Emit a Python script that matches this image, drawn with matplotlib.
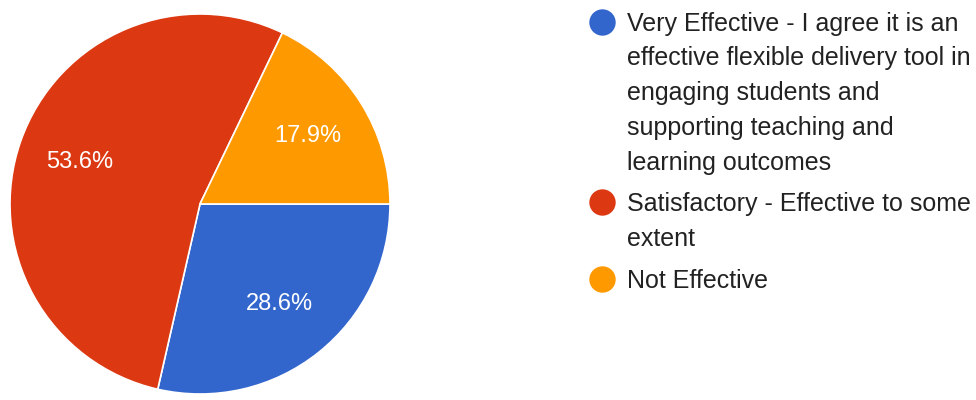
import matplotlib.pyplot as plt
from matplotlib.lines import Line2D

plt.rcParams['font.family'] = ['Liberation Sans', 'DejaVu Sans']

labels = [
    "Very Effective - I agree it is an\neffective flexible delivery tool in\nengaging students and\nsupporting teaching and\nlearning outcomes",
    "Satisfactory - Effective to some\nextent",
    "Not Effective",
]
# responses out of 28 -> 28.6%, 53.6%, 17.9%
counts = [8, 15, 5]
colors = ["#3366CC", "#DC3912", "#FF9900"]

W, H = 976, 400
fig = plt.figure(figsize=(W / 100, H / 100), dpi=100)

# pie axes: 380x380 px box centred at (200, 204) from top-left
cx, cy, r = 200, 204, 190
ax = fig.add_axes([(cx - r) / W, (H - cy - r) / H, 2 * r / W, 2 * r / H])
wedges, texts, autotexts = ax.pie(
    counts, colors=colors, startangle=0, counterclock=False,
    autopct="%.1f%%", pctdistance=0.67, radius=1.0,
    wedgeprops=dict(edgecolor="white", linewidth=1.2),
    textprops=dict(color="white", fontsize=17),
)
ax.set_xlim(-1, 1)
ax.set_ylim(-1, 1)
ax.set_aspect("equal")
ax.axis("off")

# legend drawn by hand, one text per wrapped line
marker_x = 602
text_x = 627
line_step = 34.7
item_gap = 7
y = 21.7
for lab, col in zip(labels, colors):
    fig.add_artist(Line2D([marker_x / W], [1 - y / H], marker="o", markersize=19,
                          color=col, markeredgewidth=0, transform=fig.transFigure))
    for line in lab.split("\n"):
        fig.text(text_x / W, 1 - (y + 9) / H, line, fontsize=18, color="#222222",
                 ha="left", va="baseline")
        y += line_step
    y += item_gap

fig.savefig("out.png", dpi=100, facecolor="white")
